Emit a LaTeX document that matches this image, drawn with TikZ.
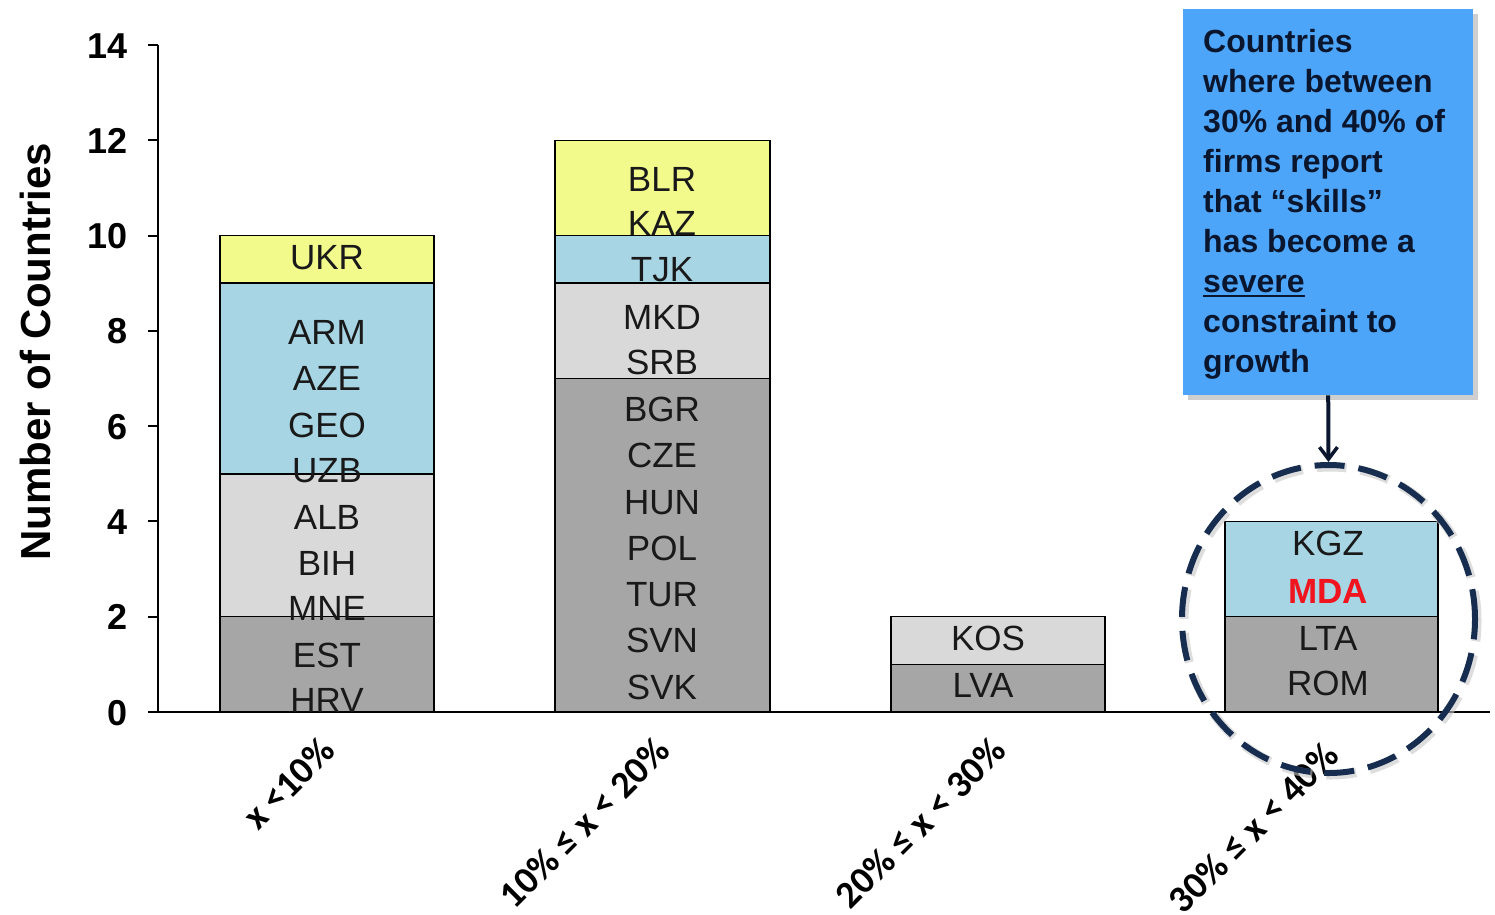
\documentclass[tikz,border=0pt]{standalone}
\usepackage{fontspec}
\setmainfont{Liberation Sans}
\newfontfamily\carl{Carlito}
\usetikzlibrary{arrows.meta,shapes.geometric}
\definecolor{cyel}{RGB}{242,250,140}
\definecolor{cblue}{RGB}{168,213,228}
\definecolor{clgray}{RGB}{217,217,217}
\definecolor{cdgray}{RGB}{166,166,166}
\definecolor{cbox}{RGB}{77,165,250}
\definecolor{cnavy}{RGB}{22,45,80}
\definecolor{ctext}{RGB}{10,22,45}
\definecolor{cred}{RGB}{240,20,30}
\begin{document}
\begin{tikzpicture}[x=1pt,y=-1pt,
  seg/.style={draw=black,line width=1.5pt},
  lab/.style={font=\fontsize{35}{40}\selectfont,anchor=base,inner sep=0pt,text=black!90},
  ytl/.style={font=\fontsize{36}{40}\selectfont\bfseries,anchor=base east,inner sep=0pt},
  cat/.style={font=\fontsize{38}{42}\selectfont\carl\bfseries,anchor=east,rotate=45,inner sep=0pt},
  cline/.style={font=\fontsize{32}{40}\selectfont\bfseries,anchor=base west,inner sep=0pt,text=ctext},
  axis/.style={line width=2pt,black}]
\useasboundingbox (0,0) rectangle (1495,914);
% ---- bars ----
% bar 1
\draw[seg,fill=cdgray] (220,{712-47.64*0}) rectangle (434,{712-47.64*2});
\draw[seg,fill=clgray] (220,{712-47.64*2}) rectangle (434,{712-47.64*5});
\draw[seg,fill=cblue]  (220,{712-47.64*5}) rectangle (434,{712-47.64*9});
\draw[seg,fill=cyel]   (220,{712-47.64*9}) rectangle (434,{712-47.64*10});
% bar 2
\draw[seg,fill=cdgray] (555,{712-47.64*0}) rectangle (770,{712-47.64*7});
\draw[seg,fill=clgray] (555,{712-47.64*7}) rectangle (770,{712-47.64*9});
\draw[seg,fill=cblue]  (555,{712-47.64*9}) rectangle (770,{712-47.64*10});
\draw[seg,fill=cyel]   (555,{712-47.64*10}) rectangle (770,{712-47.64*12});
% bar 3
\draw[seg,fill=cdgray] (891,{712-47.64*0}) rectangle (1105,{712-47.64*1});
\draw[seg,fill=clgray] (891,{712-47.64*1}) rectangle (1105,{712-47.64*2});
% bar 4
\draw[seg,fill=cdgray] (1225,{712-47.64*0}) rectangle (1438,{712-47.64*2});
\draw[seg,fill=cblue]  (1225,{712-47.64*2}) rectangle (1438,{712-47.64*4});
% ---- axes ----
\draw[axis] (158,45) -- (158,712) -- (1490,712);
\foreach \v in {0,2,...,14}{
  \draw[axis] (148,{712-47.64*\v}) -- (158,{712-47.64*\v});
  \node[ytl] (yt\v) at (128,{712-47.64*\v+13}) {\v};
}
\node[font=\fontsize{42}{46}\selectfont\bfseries,rotate=90,anchor=base,inner sep=0pt] (ylab) at (50,352) {Number of Countries};
% ---- bar labels ----
\node[lab] (ukr) at (327,269) {UKR};
\node[lab] (arm) at (327,344) {ARM};
\node[lab] (aze) at (327,390) {AZE};
\node[lab] (geo) at (327,437) {GEO};
\node[lab] (uzb) at (327,482) {UZB};
\node[lab] (alb) at (327,529) {ALB};
\node[lab] (bih) at (327,575) {BIH};
\node[lab] (mne) at (327,620) {MNE};
\node[lab] (est) at (327,667) {EST};
\node[lab] (hrv) at (327,712) {HRV};
\node[lab] (blr) at (662,191) {BLR};
\node[lab] (kaz) at (662,235) {KAZ};
\node[lab] (tjk) at (662,281) {TJK};
\node[lab] (mkd) at (662,329) {MKD};
\node[lab] (srb) at (662,374) {SRB};
\node[lab] (bgr) at (662,421) {BGR};
\node[lab] (cze) at (662,467) {CZE};
\node[lab] (hun) at (662,514) {HUN};
\node[lab] (pol) at (662,560) {POL};
\node[lab] (tur) at (662,606) {TUR};
\node[lab] (svn) at (662,652) {SVN};
\node[lab] (svk) at (662,699) {SVK};
\node[lab] (kos) at (988,650) {KOS};
\node[lab] (lva) at (983,697) {LVA};
\node[lab] (kgz) at (1328,555) {KGZ};
\node[lab,font=\fontsize{35}{40}\selectfont\bfseries,text=cred] (mda) at (1328,603) {MDA};
\node[lab] (lta) at (1328,650) {LTA};
\node[lab] (rom) at (1328,695) {ROM};
% ---- category labels ----
\node[cat] (c1) at (328,744) {x <10\%};
\node[cat] (c2) at (663,744) {10\% ≤ x < 20\%};
\node[cat] (c3) at (999,744) {20\% ≤ x < 30\%};
\node[cat] (c4) at (1332,749) {30\% ≤ x < 40\%};
% ---- highlight circle ----
\node[ellipse,draw=gray!45,opacity=0.6,line width=9pt,dash pattern=on 30pt off 14pt,
      minimum width=293pt,minimum height=308pt,inner sep=0pt] (circsh) at (1330.5,621) {};
\node[ellipse,draw=cnavy,line width=6pt,dash pattern=on 30pt off 14pt,
      minimum width=293pt,minimum height=308pt,inner sep=0pt] (circ) at (1328.5,619) {};
% ---- callout ----
\fill[gray!55,opacity=0.7] (1188,14) rectangle (1478,400);
\node[fill=cbox,draw=none,minimum width=290pt,minimum height=386pt,anchor=north west,inner sep=0pt] (box) at (1183,9) {};
\node[cline] (t1) at (1203,52) {Countries};
\node[cline] (t2) at (1203,92) {where between};
\node[cline] (t3) at (1203,132) {30\% and 40\% of};
\node[cline] (t4) at (1203,172) {firms report};
\node[cline] (t5) at (1203,212) {that ``skills''};
\node[cline] (t6) at (1203,252) {has become a};
\node[cline] (t7) at (1203,292) {severe};
\node[cline] (t8) at (1203,332) {constraint to};
\node[cline] (t9) at (1203,372) {growth};
\draw[ctext,line width=2.5pt] ([yshift=-4pt]t7.base west) -- ([yshift=-4pt]t7.base east);
\draw[ctext,line width=4pt,-{Straight Barb[length=12pt,width=18pt,line width=3.5pt]}] (box.south) -- (circ.north);
\end{tikzpicture}
\end{document}
